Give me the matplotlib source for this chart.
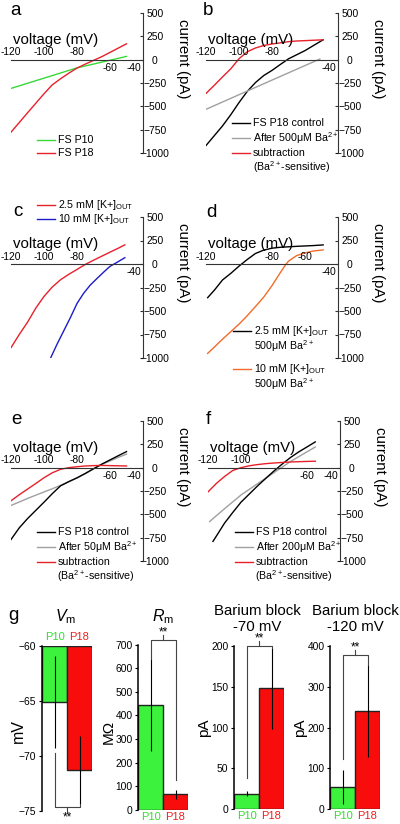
import matplotlib
matplotlib.use('Agg')
import matplotlib.pyplot as plt
from matplotlib.lines import Line2D

plt.rcParams['font.family'] = 'Liberation Sans'
plt.rcParams['mathtext.fontset'] = 'custom'
plt.rcParams['mathtext.rm'] = 'Liberation Sans'
plt.rcParams['mathtext.it'] = 'Liberation Sans:italic'

# ---- I-V data (voltage mV, current pA) ----
i_ticks = [500, 250, 0, -250, -500, -750, -1000]

a_v = [-120, -110, -100, -95, -90, -85, -80, -75, -70, -65, -60, -55, -50]
a_p18 = [-777, -570, -365, -270, -205, -145, -90, -48, -8, 32, 78, 124, 170]
a_p10_v = [-120, -110, -100, -90, -80, -70, -60, -50]
a_p10 = [-308, -253, -198, -143, -88, -47, -6, 35]

b_v = [-120, -115, -110, -105, -100, -95, -90, -85, -80, -75, -70, -65, -60, -55, -49]
b_ctrl = [-920, -815, -710, -590, -460, -340, -245, -170, -115, -52, 9, 53, 97, 150, 213]
b_sub = [-362, -275, -185, -98, 10, 85, 125, 152, 168, 180, 193, 200, 204, 208, 213]
b_ba_v = [-120, -85, -51]
b_ba = [-532, -258, 7]

c_red_v = [-120, -115, -110, -105, -100, -95, -90, -85, -80, -75, -70, -65, -60, -55, -51]
c_red = [-890, -750, -620, -470, -345, -245, -168, -110, -58, -5, 40, 83, 126, 168, 204]
c_blue_v = [-96, -92, -88, -84, -80, -76, -72, -68, -64, -60, -56, -51]
c_blue = [-1000, -850, -710, -570, -420, -312, -225, -156, -89, -25, 15, 67]

d_blk_v = [-119, -115, -110, -105, -100, -95, -90, -85, -80, -75, -70, -65, -60, -55, -49]
d_blk = [-358, -280, -170, -100, -23, 48, 112, 148, 168, 178, 183, 188, 192, 196, 203]
d_org_v = [-119, -115, -110, -105, -100, -95, -90, -85, -80, -75, -72, -70, -65, -60, -55, -49]
d_org = [-951, -885, -800, -720, -640, -550, -452, -352, -230, -93, -14, 30, 90, 118, 138, 150]

e_v = [-120, -115, -110, -105, -100, -95, -90, -85, -80, -75, -70, -65, -60, -55, -50]
e_ctrl = [-770, -645, -546, -458, -370, -279, -195, -150, -109, -62, -12, 38, 83, 128, 172]
e_ba = [-405, -368, -330, -295, -260, -226, -190, -150, -110, -65, -12, 33, 72, 110, 145]
e_sub = [-355, -290, -230, -170, -108, -55, -18, 0, 10, 18, 22, 24, 22, 20, 18]

f_ctrl_v = [-117, -115, -110, -105, -100, -95, -90, -85, -80, -75, -70, -65, -60, -55]
f_ctrl = [-790, -735, -595, -480, -370, -283, -196, -115, -35, 39, 109, 169, 222, 276]
f_ba_v = [-119, -110, -100, -90, -80, -70, -60, -55]
f_ba = [-577, -440, -293, -172, -53, 66, 170, 221]
f_sub_v = [-120, -115, -110, -105, -100, -95, -90, -85, -80, -75, -70, -65, -60, -55]
f_sub = [-260, -170, -95, -30, 0, 20, 33, 43, 50, 56, 61, 64, 67, 69]

# ---- bar data (P10, P18) ----
groups = ['P10', 'P18']
vm_mean = [-65.1, -71.3]
vm_err = [4.2, 3.1]
rm_mean = [443, 66]
rm_err = [195, 20]
ba70_mean = [19, 148]
ba70_err = [3, 50]
ba120_mean = [55, 241]
ba120_err = [41, 113]
# significance brackets: left leg end, bar height, right leg end
vm_brk = [-69.7, -74.65, -74.4]
rm_brk = [640, 720, 127]
ba70_brk = [38, 200, 198]
ba120_brk = [123, 379, 354]

GREEN = '#38d838'
RED = '#e8202a'
GRAY = '#a0a0a0'
BLUE = '#1c1cc8'
ORANGE = '#f26b2a'
BAR_G = '#3cf23c'
BAR_R = '#f80c0c'

W, H = 400, 824
fig = plt.figure(figsize=(W / 100, H / 100), dpi=100)


def box(x0, y0, x1, y1):
    return [x0 / W, 1 - y1 / H, (x1 - x0) / W, (y1 - y0) / H]


def fx(x):
    return x / W


def fy(y):
    return 1 - y / H


def iv_axes(x0, y0, x1, y1, above, below):
    ax = fig.add_axes(box(x0, y0, x1, y1))
    ax.set_xlim(-120, -40)
    ax.set_ylim(-1000, 500)
    ax.patch.set_visible(False)
    ax.spines['top'].set_visible(False)
    ax.spines['left'].set_visible(False)
    ax.spines['bottom'].set_position(('data', 0))
    for s in ['bottom', 'right']:
        ax.spines[s].set_color('#333333')
        ax.spines[s].set_linewidth(0.8)
    ax.set_xticks([])
    ax.yaxis.tick_right()
    ax.set_yticks(i_ticks)
    ax.tick_params(axis='y', direction='in', length=2, pad=8.5, labelsize=7.4,
                   color='#333333')
    for lab in ax.get_yticklabels():
        lab.set_ha('center')
    for t in above:
        ax.text(t, 78, str(t), ha='center', va='center', fontsize=7.4)
    for t in below:
        if t == -40:
            ax.text(-40.8, -85, str(t), ha='right', va='center', fontsize=7.4)
        else:
            ax.text(t, -85, str(t), ha='center', va='center', fontsize=7.4)
    ax.text(-119, 213, 'voltage (mV)', fontsize=10.8, va='center')
    ax.text(-16, 10, 'current (pA)', fontsize=10.8, rotation=-90,
            ha='center', va='center', clip_on=False)
    return ax


def key(x, y, color, label):
    fig.add_artist(Line2D([fx(x), fx(x + 18)], [fy(y), fy(y)], color=color, lw=1))
    fig.text(fx(x + 21), fy(y), label, fontsize=7.7, va='center')


def note(x, y, label):
    fig.text(fx(x), fy(y), label, fontsize=7.7, va='center')


# a
ax = iv_axes(11, 13, 143, 153, [-120, -100, -80], [-60, -40])
ax.plot(a_p10_v, a_p10, color=GREEN, lw=1)
ax.plot(a_v, a_p18, color=RED, lw=1)
key(37, 140, GREEN, 'FS P10')
key(37, 153, RED, 'FS P18')

# b
ax = iv_axes(206, 13, 338, 153, [-120, -100, -80], [-40])
ax.plot(b_v, b_ctrl, color='k', lw=1)
ax.plot(b_ba_v, b_ba, color=GRAY, lw=1)
ax.plot(b_v, b_sub, color=RED, lw=1)
key(232, 123, 'k', 'FS P18 control')
key(232, 138, GRAY, 'After 500\u03bcM Ba$^{2+}$')
key(232, 153, RED, 'subtraction')
note(253, 167, '(Ba$^{2+}$-sensitive)')

# c
ax = iv_axes(11, 217, 143, 358, [-120, -100, -80], [-40])
ax.plot(c_red_v, c_red, color=RED, lw=1)
ax.plot(c_blue_v, c_blue, color=BLUE, lw=1)
key(37, 205, RED, '2.5 mM [K+]$_{\\mathrm{OUT}}$')
key(37, 219, BLUE, '10 mM [K+]$_{\\mathrm{OUT}}$')

# d
ax = iv_axes(206, 217, 338, 358, [-120, -80, -60], [-40])
ax.plot(d_blk_v, d_blk, color='k', lw=1)
ax.plot(d_org_v, d_org, color=ORANGE, lw=1)
key(233, 331, 'k', '2.5 mM [K+]$_{\\mathrm{OUT}}$')
note(254, 346, '500\u03bcM Ba$^{2+}$')
key(233, 369, ORANGE, '10 mM [K+]$_{\\mathrm{OUT}}$')
note(254, 384, '500\u03bcM Ba$^{2+}$')

# e
ax = iv_axes(11, 421, 143, 561, [-120, -100, -80], [-60, -40])
ax.plot(e_v, e_ba, color=GRAY, lw=1)
ax.plot(e_v, e_ctrl, color='k', lw=1)
ax.plot(e_v, e_sub, color=RED, lw=1)
key(37, 532, 'k', 'FS P18 control')
key(37, 547, GRAY, 'After 50\u03bcM Ba$^{2+}$')
key(37, 562, RED, 'subtraction')
note(57, 576, '(Ba$^{2+}$-sensitive)')

# f
ax = iv_axes(208, 421, 340, 561, [-120, -100], [-60, -40])
ax.plot(f_ba_v, f_ba, color=GRAY, lw=1)
ax.plot(f_ctrl_v, f_ctrl, color='k', lw=1)
ax.plot(f_sub_v, f_sub, color=RED, lw=1)
key(235, 532, 'k', 'FS P18 control')
key(235, 547, GRAY, 'After 200\u03bcM Ba$^{2+}$')
key(235, 562, RED, 'subtraction')
note(255, 576, '(Ba$^{2+}$-sensitive)')

# panel letters
for letter, x, y in [('a', 10, 15), ('b', 203, 15), ('c', 13, 216), ('d', 206, 217),
                     ('e', 11, 424), ('f', 206, 424), ('g', 8, 620)]:
    fig.text(fx(x), fy(y), letter, fontsize=13.5, va='baseline')


# g: bar charts
def bar_axes(x0, y0, x1, y1, ylim, yticks, means, errs, brk, base=0, top=False):
    ax = fig.add_axes(box(x0, y0, x1, y1))
    ax.patch.set_visible(False)
    heights = [m - base for m in means]
    ax.bar([0, 1], heights, bottom=base, width=1, color=[BAR_G, BAR_R],
           edgecolor='#222222', linewidth=1)
    ax.errorbar([0, 1], means, yerr=errs, fmt='none', ecolor='k',
                elinewidth=0.8, capsize=0)
    ax.plot([0, 0, 1, 1], [brk[0], brk[1], brk[1], brk[2]], color='#444444',
            lw=0.8, clip_on=False)
    d = (ylim[1] - ylim[0]) * 0.03
    ax.plot([0.5, 0.5], [brk[1], brk[1] - d if top else brk[1] + d],
            color='#444444', lw=0.8, clip_on=False)
    ax.set_xlim(-0.5, 1.5)
    ax.set_ylim(*ylim)
    ax.set_yticks(yticks)
    for s in ['top', 'right', 'bottom']:
        ax.spines[s].set_visible(False)
    ax.spines['left'].set_linewidth(1.1)
    ax.tick_params(axis='y', direction='out', length=2.5, width=0.8, pad=1.5,
                   labelsize=7.4)
    ax.set_xticks([0, 1])
    ax.set_xticklabels(groups)
    if top:
        ax.xaxis.tick_top()
        ax.tick_params(axis='x', length=0, pad=3, labelsize=8)
    else:
        ax.tick_params(axis='x', length=0, pad=1.5, labelsize=8)
    ax.get_xticklabels()[0].set_color('#30e030')
    ax.get_xticklabels()[1].set_color('#f02020')
    return ax


ax = bar_axes(42, 646, 92, 811, (-75, -60), [-60, -65, -70, -75], vm_mean, vm_err,
              vm_brk, base=-60, top=True)
ax.text(0.5, vm_brk[1] - 0.35, '**', ha='center', va='top', fontsize=8.5, clip_on=False)
fig.text(fx(66), fy(617), '$V_{\\mathrm{m}}$', fontsize=11.5, ha='center', va='center')
fig.text(fx(18), fy(731), 'mV', fontsize=11.5, rotation=90, ha='center', va='center')

ax = bar_axes(138, 644.6, 188, 810, (0, 700), list(range(0, 701, 100)), rm_mean, rm_err,
              rm_brk)
ax.text(0.5, rm_brk[1] + 5, '**', ha='center', va='bottom', fontsize=8.5, clip_on=False)
fig.text(fx(163), fy(617), '$R_{\\mathrm{m}}$', fontsize=11.5, ha='center', va='center')
fig.text(fx(109), fy(732), 'M\u03a9', fontsize=11, rotation=90, ha='center', va='center')

ax = bar_axes(234, 646, 284, 809.3, (0, 200), [0, 50, 100, 150, 200], ba70_mean, ba70_err,
              ba70_brk)
ax.text(0.5, ba70_brk[1] + 2, '**', ha='center', va='bottom', fontsize=8.5, clip_on=False)
fig.text(fx(257), fy(619), 'Barium block\n-70 mV', fontsize=10.8, ha='center',
         va='center', linespacing=1.15)
fig.text(fx(204), fy(728), 'pA', fontsize=11, rotation=90, ha='center', va='center')

ax = bar_axes(330, 646, 380, 809.3, (0, 400), [0, 100, 200, 300, 400], ba120_mean,
              ba120_err, ba120_brk)
ax.text(0.5, ba120_brk[1] + 4, '**', ha='center', va='bottom', fontsize=8.5, clip_on=False)
fig.text(fx(355), fy(619), 'Barium block\n-120 mV', fontsize=10.8, ha='center',
         va='center', linespacing=1.15)
fig.text(fx(300), fy(728), 'pA', fontsize=11, rotation=90, ha='center', va='center')

fig.savefig('out.png', dpi=100)
